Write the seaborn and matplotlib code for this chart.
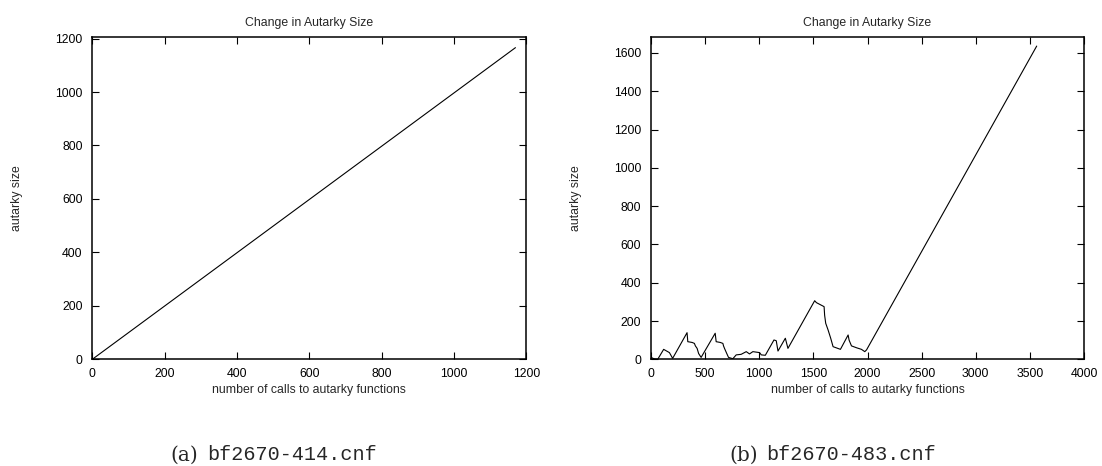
import matplotlib
matplotlib.use("Agg")
import matplotlib.pyplot as plt
import seaborn as sns
import pandas as pd

# ---- data ----
x_a = [0, 1170]
y_a = [0, 1166]

x_b = [0, 31, 62, 117, 148, 170, 200, 333, 340, 380, 401, 410, 426, 440, 463,
       593, 602, 640, 664, 670, 679, 700, 716, 756, 787, 833, 880, 910, 941,
       1003, 1019, 1056, 1136, 1157, 1173, 1241, 1265, 1512, 1528, 1599, 1604,
       1614, 1636, 1660, 1682, 1750, 1821, 1830, 1852, 1900, 1944, 1975, 1991, 3563]
y_b = [10, 2, 0, 52, 42, 35, 5, 139, 92, 88, 83, 70, 57, 30, 10,
       136, 92, 88, 83, 70, 57, 30, 10, 3, 23, 26, 40, 28, 40,
       35, 23, 21, 101, 97, 43, 110, 57, 306, 296, 275, 230,
       188, 153, 110, 66, 52, 127, 100, 70, 60, 52, 40, 49, 1636]

title = "Change in Autarky Size"
xlabel = "number of calls to autarky functions"
ylabel = "autarky size"
cap_a = ("(a)", "bf2670-414.cnf")
cap_b = ("(b)", "bf2670-483.cnf")

sns.set_style("ticks")
plt.rcParams['font.family'] = ['Liberation Sans', 'DejaVu Sans']

fig = plt.figure(figsize=(11.02, 4.66), dpi=100)
W, H = 1102, 466
ax1 = fig.add_axes([92.3 / W, 1 - 359.3 / H, 434 / W, 322.6 / H])
ax2 = fig.add_axes([651 / W, 1 - 359.3 / H, 433 / W, 322.6 / H])

df_a = pd.DataFrame({"x": x_a, "y": y_a})
df_b = pd.DataFrame({"x": x_b, "y": y_b})
sns.lineplot(data=df_a, x="x", y="y", ax=ax1, color="black", linewidth=0.8, sort=False)
sns.lineplot(data=df_b, x="x", y="y", ax=ax2, color="black", linewidth=0.8, sort=False)

fs = 8.8
for ax, xmax, ymax, xt, yt in [
    (ax1, 1200, 1207, range(0, 1201, 200), range(0, 1201, 200)),
    (ax2, 4000, 1685, range(0, 4001, 500), range(0, 1601, 200)),
]:
    ax.set_xlim(0, xmax)
    ax.set_ylim(0, ymax)
    ax.set_xticks(list(xt))
    ax.set_yticks(list(yt))
    ax.tick_params(direction="in", length=5, width=0.8, top=True, right=True,
                   labelsize=fs, pad=6, colors="black")
    ax.tick_params(axis="y", pad=7)
    for s in ax.spines.values():
        s.set_visible(True)
        s.set_linewidth(1.1)
        s.set_color("black")
    ax.set_title(title, fontsize=fs, pad=0, y=1.033)
    ax.set_xlabel(xlabel, fontsize=fs, labelpad=0)
    ax.set_ylabel(ylabel, fontsize=fs)
    ax.xaxis.set_label_coords(0.5, -0.077)
    ax.yaxis.set_label_coords(-0.16, 0.5)
    ax.set_facecolor("white")

# captions
y = 1 - 455 / H
for x0, (p, f) in [(170, cap_a), (729, cap_b)]:
    fig.text(x0 / W, y, p, fontsize=14.5, family=['DejaVu Serif'], va='center', ha='left')
    fig.text((x0 + 37) / W, y, f, fontsize=14.5, family=['Liberation Mono'], va='center', ha='left')

fig.savefig("out.png", dpi=100, facecolor="white")
